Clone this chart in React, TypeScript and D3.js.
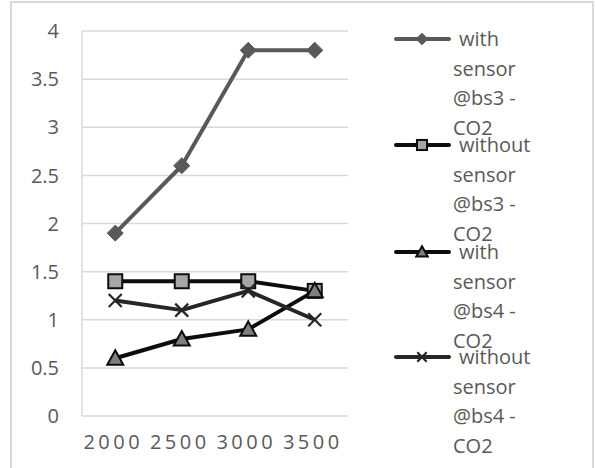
import React from "react";
import * as d3 from "d3";

const categories = ["2000", "2500", "3000", "3500"];
const withBs3 = [1.9, 2.6, 3.8, 3.8];
const withoutBs3 = [1.4, 1.4, 1.4, 1.3];
const withBs4 = [0.6, 0.8, 0.9, 1.3];
const withoutBs4 = [1.2, 1.1, 1.3, 1.0];
const yTicks = [0, 0.5, 1, 1.5, 2, 2.5, 3, 3.5, 4];
const legendLines = [
  ["with", "sensor", "@bs3 -", "CO2"],
  ["without", "sensor", "@bs3 -", "CO2"],
  ["with", "sensor", "@bs4 -", "CO2"],
  ["without", "sensor", "@bs4 -", "CO2"],
];

type Marker = "diamond" | "square" | "triangle" | "x";
const series: { values: number[]; line: string; fill: string; stroke: string; marker: Marker }[] = [
  { values: withBs3, line: "#595959", fill: "#595959", stroke: "#595959", marker: "diamond" },
  { values: withoutBs3, line: "#0d0d0d", fill: "#a6a6a6", stroke: "#0d0d0d", marker: "square" },
  { values: withBs4, line: "#0d0d0d", fill: "#7f7f7f", stroke: "#0d0d0d", marker: "triangle" },
  { values: withoutBs4, line: "#262626", fill: "none", stroke: "#262626", marker: "x" },
];

const FONT = "'Open Sans', 'Noto Sans', sans-serif";
const TXT = "#595959";

function MarkerShape({ kind, x, y, fill, stroke, k = 1 }: { kind: Marker; x: number; y: number; fill: string; stroke: string; k?: number }) {
  if (kind === "diamond") {
    const s = 8 * k;
    return <path d={`M${x},${y - s}L${x + s},${y}L${x},${y + s}L${x - s},${y}Z`} fill={fill} stroke={stroke} strokeWidth={1} />;
  }
  if (kind === "square") {
    const s = 7 * k;
    return <rect x={x - s} y={y - s} width={2 * s} height={2 * s} fill={fill} stroke={stroke} strokeWidth={2} />;
  }
  if (kind === "triangle") {
    const s = 8 * k;
    return <path d={`M${x},${y - s}L${x + s},${y + s * 0.8}L${x - s},${y + s * 0.8}Z`} fill={fill} stroke={stroke} strokeWidth={2} strokeLinejoin="miter" />;
  }
  const s = 6.5 * k;
  return (
    <g stroke={stroke} strokeWidth={2.2}>
      <line x1={x - s} y1={y - s} x2={x + s} y2={y + s} />
      <line x1={x - s} y1={y + s} x2={x + s} y2={y - s} />
    </g>
  );
}

export default function App() {
  const W = 595, H = 468;
  const left = 82, right = 348, top = 31, bottom = 416;
  const x = d3.scaleBand<string>().domain(categories).range([left, right]);
  const y = d3.scaleLinear().domain([0, 4]).range([bottom, top]);
  const cx = (c: string) => (x(c) ?? 0) + x.bandwidth() / 2;
  const lineGen = d3.line<number>().x((_, i) => cx(categories[i])).y((v) => y(v));

  const legendY = [39, 145, 252, 357];
  const lineH = 29.5;

  return (
    <svg width={W} height={H} style={{ position: "absolute", left: 0, top: 0, background: "#fff" }}>
      <rect x={11} y={2} width={582} height={H + 10} fill="#fff" stroke="#d9d9d9" strokeWidth={2} />
      {yTicks.map((t) => (
        <line key={"g" + t} x1={left} x2={right} y1={y(t)} y2={y(t)} stroke="#d9d9d9" strokeWidth={1.5} />
      ))}
      <line x1={left} x2={left} y1={top} y2={bottom} stroke="#d9d9d9" strokeWidth={1.5} />
      {yTicks.map((t) => (
        <text key={"t" + t} x={59} y={y(t)} dy="0.36em" textAnchor="end" fontFamily={FONT} fontSize={20} fill={TXT}>
          {String(t)}
        </text>
      ))}
      {categories.map((c) => (
        <text key={c} x={cx(c) - 2} y={449} textAnchor="middle" fontFamily={FONT} fontSize={20} letterSpacing={3.5} fill={TXT}>
          {c}
        </text>
      ))}
      {series.map((s, i) => (
        <g key={"s" + i}>
          <path d={lineGen(s.values) ?? ""} fill="none" stroke={s.line} strokeWidth={4} strokeLinejoin="round" />
          {s.values.map((v, j) => (
            <MarkerShape key={j} kind={s.marker} x={cx(categories[j])} y={y(v)} fill={s.fill} stroke={s.stroke} />
          ))}
        </g>
      ))}
      {series.map((s, i) => (
        <g key={"l" + i}>
          <line x1={396} x2={449} y1={legendY[i]} y2={legendY[i]} stroke={s.line} strokeWidth={4} strokeLinecap="round" />
          <MarkerShape kind={s.marker} x={422} y={legendY[i]} fill={s.fill} stroke={s.stroke} k={0.72} />
          {legendLines[i].map((t, k) => (
            <text key={k} x={k === 0 ? 459 : 453} y={legendY[i] + k * lineH} dy="0.36em" fontFamily={FONT} fontSize={20} fill={TXT}>
              {t}
            </text>
          ))}
        </g>
      ))}
    </svg>
  );
}
